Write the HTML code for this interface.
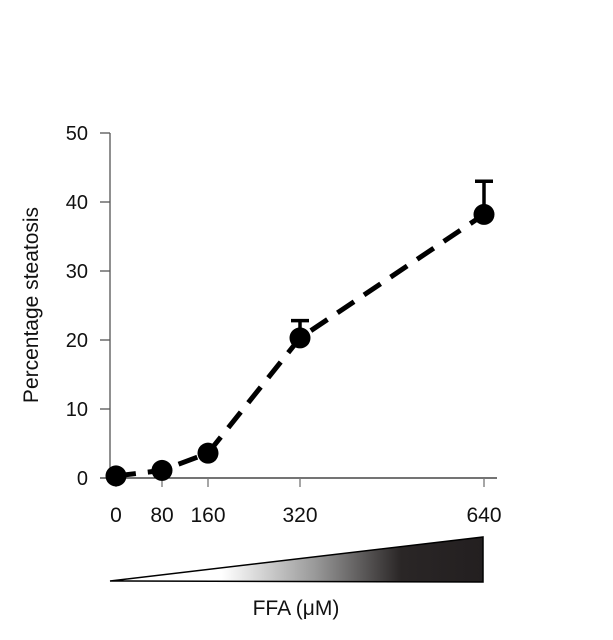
<!DOCTYPE html>
<html><head><meta charset="utf-8"><style>
body{margin:0;background:#fff;}
svg{display:block;font-family:"Liberation Sans",sans-serif;}
</style></head><body>
<svg id="c" width="613" height="640">
<defs><linearGradient id="g" x1="110" y1="0" x2="483" y2="0" gradientUnits="userSpaceOnUse">
<stop offset="0" stop-color="#fff"/><stop offset="0.3" stop-color="#fff"/><stop offset="0.55" stop-color="#999"/><stop offset="0.78" stop-color="#2a2626"/><stop offset="1" stop-color="#231f20"/></linearGradient></defs>
<polygon points="110,581 483,537 483,582" fill="url(#g)" stroke="#000" stroke-width="1.5"/>
<text x="296" y="615" font-size="21" text-anchor="middle" fill="#111">FFA (μM)</text>
<text transform="translate(38,305) rotate(-90)" font-size="21" text-anchor="middle" fill="#111">Percentage steatosis</text>
</svg>
<script>
const xCats=[0,80,160,320,640];
const xLabels=["0","80","160","320","640"];
const yVals=[0.3,1.1,3.6,20.3,38.2];
const yErr=[0,0,0,2.5,4.8];
const yTicks=[0,10,20,30,40,50];
const svg=document.getElementById('c');
const NS='http://www.w3.org/2000/svg';
const X=v=>116+v*(368/640);
const Y=v=>478-v*(345/50);
function mk(t,a){const e=document.createElementNS(NS,t);for(const k in a)e.setAttribute(k,a[k]);svg.appendChild(e);return e;}
let ya=mk('line',{x1:110,y1:Y(50),x2:110,y2:Y(0),stroke:'#555','stroke-width':1.3});


let xa=mk('line',{x1:100,y1:Y(0),x2:497,y2:Y(0),stroke:'#222','stroke-width':1.3});


yTicks.forEach(t=>{
 let l=mk('line',{x1:100,y1:Y(t),x2:110,y2:Y(t),stroke:'#555','stroke-width':1.3});
 
 
 let tx=mk('text',{x:88,y:Y(t)+7,'font-size':20,'text-anchor':'end',fill:'#111'});tx.textContent=t;
 
 
});
xCats.forEach((c,i)=>{
 let l=mk('line',{x1:X(c),y1:Y(0),x2:X(c),y2:Y(0)+9,stroke:'#777','stroke-width':1.3});
 
 
 let tx=mk('text',{x:X(c),y:522,'font-size':21,'text-anchor':'middle',fill:'#111'});tx.textContent=xLabels[i];
 
 
});
let pts=xCats.map((c,i)=>X(c)+','+Y(yVals[i])).join(' ');
let ln=mk('polyline',{points:pts,fill:'none',stroke:'#000','stroke-width':5,'stroke-dasharray':'20,12'});


xCats.forEach((c,i)=>{
 if(yErr[i]>0){
  let e=mk('path',{d:`M${X(c)},${Y(yVals[i])} V${Y(yVals[i]+yErr[i])} M${X(c)-9},${Y(yVals[i]+yErr[i])} H${X(c)+9}`,stroke:'#000','stroke-width':3.5,fill:'none'});
  
  
 }
 let p=mk('circle',{cx:X(c),cy:Y(yVals[i]),r:10.5,fill:'#000'});
 
 
});
</script>
</body></html>
